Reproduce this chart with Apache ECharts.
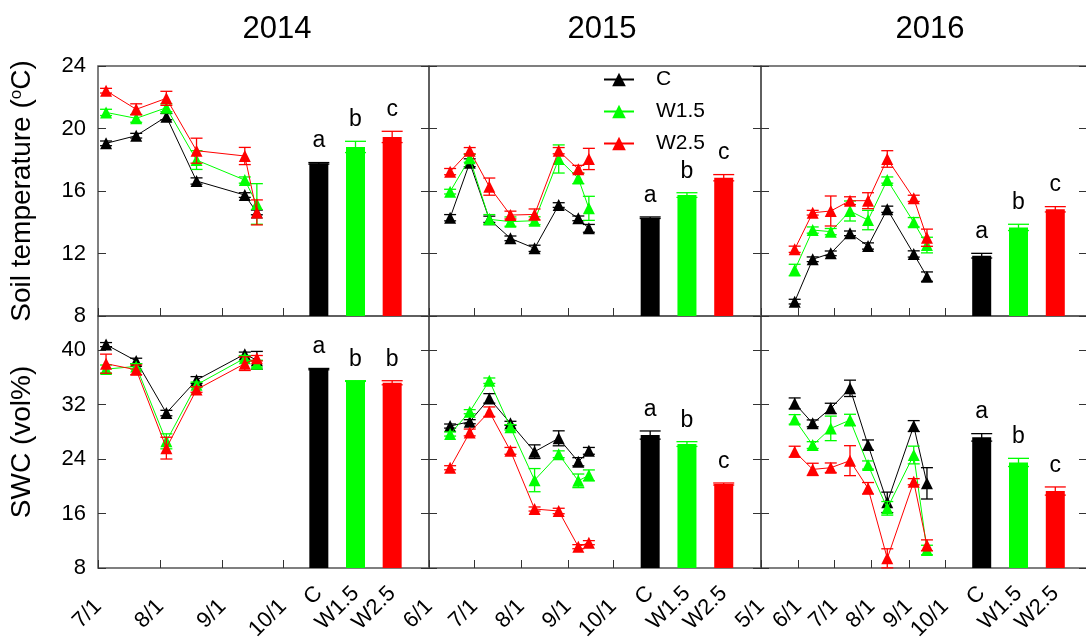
<!DOCTYPE html>
<html>
<head>
<meta charset="utf-8">
<script src="https://cdn.jsdelivr.net/npm/echarts@6/dist/echarts.min.js"></script>
<style>
  html, body { margin: 0; padding: 0; background: #fff; }
  #main { width: 1086px; height: 642px; }
</style>
</head>
<body>
<div id="main"></div>
<script>
// ---------- data ----------
const YEARS = ['2014', '2015', '2016'];
const TREATMENTS = ['C', 'W1.5', 'W2.5'];
const TREATMENT_COLORS = ['#000000', '#00ff00', '#ff0000'];

// sampling dates of each season
const DATES_2014 = ['2014-07-05', '2014-07-20', '2014-08-04', '2014-08-19', '2014-09-12', '2014-09-18'];
const DATES_2015 = ['2015-06-15', '2015-06-28', '2015-07-11', '2015-07-25', '2015-08-10', '2015-08-26', '2015-09-08', '2015-09-15'];
const DATES_2016 = ['2016-05-29', '2016-06-13', '2016-06-28', '2016-07-14', '2016-07-29', '2016-08-14', '2016-09-05', '2016-09-16'];

// month ticks on the date axes
const MONTHS_2014 = ['2014-07-01', '2014-08-01', '2014-09-01', '2014-10-01'];
const MONTHS_2015 = ['2015-06-01', '2015-07-01', '2015-08-01', '2015-09-01', '2015-10-01'];
const MONTHS_2016 = ['2016-05-01', '2016-06-01', '2016-07-01', '2016-08-01', '2016-09-01', '2016-10-01'];

// y-axis tick values
const ST_TICKS = [8, 12, 16, 20, 24];
const SWC_TICKS = [8, 16, 24, 32, 40];

// soil temperature (°C); rows are C, W1.5, W2.5
const ST_2014 = [
  [19.05, 19.54, 20.76, 16.64, 15.74, 14.63],
  [21.03, 20.65, 21.33, 17.98, 16.70, 15.17],
  [22.42, 21.23, 21.93, 18.58, 18.24, 14.63]
];
const ST_SE_2014 = [
  [0.15, 0.15, 0.20, 0.20, 0.15, 0.15],
  [0.20, 0.25, 0.25, 0.60, 0.20, 1.30],
  [0.15, 0.35, 0.45, 0.80, 0.55, 0.80]
];
const ST_2015 = [
  [14.29, 17.81, 14.19, 12.97, 12.33, 15.10, 14.25, 13.61],
  [15.96, 18.09, 14.19, 14.04, 14.10, 18.05, 16.81, 14.89],
  [17.24, 18.58, 16.28, 14.46, 14.50, 18.58, 17.39, 18.05]
];
const ST_SE_2015 = [
  [0.20, 0.25, 0.20, 0.15, 0.20, 0.15, 0.15, 0.25],
  [0.15, 0.25, 0.30, 0.30, 0.25, 0.90, 0.34, 0.77],
  [0.20, 0.20, 0.55, 0.25, 0.35, 0.20, 0.25, 0.68]
];
const ST_2016 = [
  [8.92, 11.63, 12.01, 13.29, 12.48, 14.83, 11.97, 10.52],
  [10.94, 13.50, 13.40, 14.72, 14.14, 16.70, 14.00, 12.54],
  [12.27, 14.61, 14.72, 15.38, 15.38, 18.05, 15.53, 13.01]
];
const ST_SE_2016 = [
  [0.15, 0.15, 0.15, 0.15, 0.20, 0.20, 0.20, 0.30],
  [0.37, 0.20, 0.20, 0.64, 0.62, 0.20, 0.30, 0.50],
  [0.20, 0.15, 0.96, 0.25, 0.51, 0.53, 0.20, 0.55]
];

// soil water content (vol%); rows are C, W1.5, W2.5
const SWC_2014 = [
  [40.8, 38.4, 30.75, 35.6, 39.4, 38.5],
  [37.2, 37.6, 26.6, 34.9, 38.8, 38.0],
  [38.0, 37.1, 25.6, 34.2, 38.0, 38.8]
];
const SWC_SE_2014 = [
  [0.3, 0.4, 0.4, 0.5, 0.3, 1.3],
  [0.6, 0.4, 1.1, 0.4, 0.4, 0.5],
  [1.4, 0.7, 1.6, 0.4, 1.0, 0.4]
];
const SWC_2015 = [
  [28.84, 29.48, 32.9, 29.24, 25.08, 27.04, 23.6, 25.2],
  [27.67, 30.95, 35.5, 28.65, 20.9, 24.7, 20.8, 21.6],
  [22.72, 27.9, 30.95, 25.2, 16.66, 16.37, 11.13, 11.72]
];
const SWC_SE_2015 = [
  [0.3, 0.3, 0.7, 0.3, 1.0, 1.1, 0.6, 0.5],
  [0.3, 0.3, 0.4, 0.4, 1.7, 0.5, 1.0, 0.8],
  [0.3, 0.5, 0.7, 0.5, 0.3, 0.4, 0.3, 0.3]
];
const SWC_2016 = [
  [32.17, 29.24, 31.44, 34.38, 26.05, 17.64, 28.84, 20.43],
  [29.82, 26.05, 28.5, 29.72, 23.12, 16.76, 24.59, 10.64],
  [25.08, 22.48, 22.72, 23.76, 19.7, 9.42, 20.67, 11.33]
];
const SWC_SE_2016 = [
  [0.8, 0.5, 0.75, 1.2, 0.75, 1.5, 0.8, 2.3],
  [0.7, 0.5, 1.8, 0.85, 0.6, 1.0, 1.3, 0.7],
  [0.8, 0.9, 0.7, 2.2, 0.85, 1.4, 0.45, 0.8]
];

// seasonal means per treatment, their SE and significance letters
const ST_MEAN_2014 = [17.77, 18.82, 19.46];
const ST_MEAN_SE_2014 = [0.05, 0.36, 0.36];
const ST_LETTERS_2014 = ['a', 'b', 'c'];
const ST_MEAN_2015 = [14.29, 15.74, 16.85];
const ST_MEAN_SE_2015 = [0.05, 0.15, 0.2];
const ST_LETTERS_2015 = ['a', 'b', 'c'];
const ST_MEAN_2016 = [11.86, 13.67, 14.83];
const ST_MEAN_SE_2016 = [0.15, 0.2, 0.17];
const ST_LETTERS_2016 = ['a', 'b', 'c'];

const SWC_MEAN_2014 = [37.2, 35.45, 35.2];
const SWC_MEAN_SE_2014 = [0.1, 0.05, 0.3];
const SWC_LETTERS_2014 = ['a', 'b', 'b'];
const SWC_MEAN_2015 = [27.52, 26.2, 20.33];
const SWC_MEAN_SE_2015 = [0.6, 0.35, 0.15];
const SWC_LETTERS_2015 = ['a', 'b', 'c'];
const SWC_MEAN_2016 = [27.18, 23.5, 19.3];
const SWC_MEAN_SE_2016 = [0.55, 0.6, 0.6];
const SWC_LETTERS_2016 = ['a', 'b', 'c'];

// ---------- layout ----------
const FONT = '"Liberation Sans", Arial, Helvetica, sans-serif';
const PANEL_X = [[98, 429], [429, 761], [761, 1087]];
const DATE_AXIS_RIGHT = [283, 613, 945];
const BAR_X = [[300.5, 410.5], [631.8, 742.1], [963.3, 1073.7]];
const ROW_Y = [[66, 316], [316, 568]];
const FRAME_COLOR = '#555';
const TICK_COLOR = '#333';

const ts = s => Date.parse(s);
const fmtDate = v => { const d = new Date(v); return (d.getUTCMonth() + 1) + '/' + d.getUTCDate(); };

const grid = [], xAxis = [], yAxis = [], series = [];

function errorBarRenderer(capWidth, colorOf, letters) {
  return function (params, api) {
    const x = api.value(0), m = api.value(1), e = api.value(2);
    const top = api.coord([x, m + e]);
    const bot = api.coord([x, m - e]);
    const color = colorOf(params);
    const half = capWidth / 2;
    const style = { stroke: color, lineWidth: 1.3 };
    const children = [
      { type: 'line', shape: { x1: top[0], y1: top[1], x2: bot[0], y2: bot[1] }, style },
      { type: 'line', shape: { x1: top[0] - half, y1: top[1], x2: top[0] + half, y2: top[1] }, style },
      { type: 'line', shape: { x1: bot[0] - half, y1: bot[1], x2: bot[0] + half, y2: bot[1] }, style }
    ];
    if (letters) {
      children.push({
        type: 'text',
        style: {
          text: letters[params.dataIndex], x: top[0], y: top[1] - 10,
          align: 'center', verticalAlign: 'bottom',
          fontSize: 23, fontFamily: FONT, fill: '#000'
        }
      });
    }
    return { type: 'group', children };
  };
}

function addPanel(col, row, dates, months, means, ses, barMeans, barSes, letters) {
  const [x0, x1] = PANEL_X[col];
  const [y0, y1] = ROW_Y[row];
  const h = y1 - y0;
  const range = row === 0 ? { min: 8, max: 24 } : { min: 8, max: 45 };
  const ticks = row === 0 ? ST_TICKS : SWC_TICKS;
  const common = { containLabel: false, outerBoundsMode: 'none' };

  // frame with the left and right value axes
  const gF = grid.length;
  grid.push(Object.assign({ left: x0, top: y0, width: x1 - x0, height: h, show: true,
    borderColor: FRAME_COLOR, borderWidth: 1.5, backgroundColor: 'transparent' }, common));
  xAxis.push({ gridIndex: gF, type: 'value', show: false });
  const yName = col === 0
    ? (row === 0 ? '{t|Soil temperature (}{s|o}{t|C)}' : '{t|SWC (vol%)}')
    : '';
  yAxis.push({
    gridIndex: gF, type: 'value', position: 'left', min: range.min, max: range.max,
    axisLine: { show: false }, splitLine: { show: false },
    axisTick: { show: true, inside: true, length: 8, customValues: ticks, lineStyle: { color: TICK_COLOR, width: 1 } },
    axisLabel: { show: col === 0, customValues: ticks, margin: 12, fontSize: 22, color: '#000', fontFamily: FONT },
    name: yName, nameLocation: 'middle', nameGap: 62,
    nameTextStyle: {
      fontSize: 28, color: '#000', fontFamily: FONT,
      rich: {
        t: { fontSize: 28, color: '#000', fontFamily: FONT },
        s: { fontSize: 17, color: '#000', fontFamily: FONT, verticalAlign: 'top' }
      }
    }
  });
  yAxis.push({
    gridIndex: gF, type: 'value', position: 'right', min: range.min, max: range.max,
    axisLine: { show: false }, splitLine: { show: false },
    axisTick: { show: true, inside: true, length: 8, customValues: ticks, lineStyle: { color: TICK_COLOR, width: 1 } },
    axisLabel: { show: false }
  });

  // time-course part
  const gL = grid.length;
  grid.push(Object.assign({ left: x0, top: y0, width: DATE_AXIS_RIGHT[col] - x0, height: h }, common));
  const monthTs = months.map(ts);
  const xL = xAxis.length;
  xAxis.push({
    gridIndex: gL, type: 'value', min: monthTs[0], max: monthTs[monthTs.length - 1],
    axisLine: { show: false }, splitLine: { show: false },
    axisTick: { show: true, inside: true, length: 8, customValues: monthTs, lineStyle: { color: TICK_COLOR, width: 1 } },
    axisLabel: { show: row === 1, customValues: monthTs, rotate: 45, margin: 35, formatter: fmtDate,
      fontSize: 22, color: '#000', fontFamily: FONT }
  });
  const yL = yAxis.length;
  yAxis.push({ gridIndex: gL, type: 'value', min: range.min, max: range.max, show: false });

  TREATMENTS.forEach((name, k) => {
    const pts = dates.map((d, i) => [ts(d), means[k][i]]);
    series.push({
      name, type: 'line', xAxisIndex: xL, yAxisIndex: yL, data: pts,
      symbol: 'triangle', symbolSize: 12, z: 3 + k,
      itemStyle: { color: TREATMENT_COLORS[k] },
      lineStyle: { color: TREATMENT_COLORS[k], width: 1 }
    });
    series.push({
      name: name + ' SE', type: 'custom', xAxisIndex: xL, yAxisIndex: yL, z: 3 + k,
      data: dates.map((d, i) => [ts(d), means[k][i], ses[k][i]]),
      renderItem: errorBarRenderer(12, () => TREATMENT_COLORS[k], null)
    });
  });

  // seasonal mean bars
  const [bx0, bx1] = BAR_X[col];
  const gB = grid.length;
  grid.push(Object.assign({ left: bx0, top: y0, width: bx1 - bx0, height: h }, common));
  const xB = xAxis.length;
  xAxis.push({
    gridIndex: gB, type: 'category', data: TREATMENTS,
    axisLine: { show: false }, axisTick: { show: false }, splitLine: { show: false },
    axisLabel: { show: row === 1, interval: 0, rotate: 45, margin: 22, fontSize: 22, color: '#000', fontFamily: FONT }
  });
  const yB = yAxis.length;
  yAxis.push({ gridIndex: gB, type: 'value', min: range.min, max: range.max, show: false });
  series.push({
    name: 'mean', type: 'bar', xAxisIndex: xB, yAxisIndex: yB, barWidth: 19, z: 2,
    data: barMeans.map((v, i) => ({ value: v, itemStyle: { color: TREATMENT_COLORS[i] } }))
  });
  series.push({
    name: 'mean SE', type: 'custom', xAxisIndex: xB, yAxisIndex: yB, z: 3,
    data: barMeans.map((v, i) => [i, v, barSes[i]]),
    renderItem: errorBarRenderer(21, p => TREATMENT_COLORS[p.dataIndex], letters)
  });
}

addPanel(0, 0, DATES_2014, MONTHS_2014, ST_2014, ST_SE_2014, ST_MEAN_2014, ST_MEAN_SE_2014, ST_LETTERS_2014);
addPanel(1, 0, DATES_2015, MONTHS_2015, ST_2015, ST_SE_2015, ST_MEAN_2015, ST_MEAN_SE_2015, ST_LETTERS_2015);
addPanel(2, 0, DATES_2016, MONTHS_2016, ST_2016, ST_SE_2016, ST_MEAN_2016, ST_MEAN_SE_2016, ST_LETTERS_2016);
addPanel(0, 1, DATES_2014, MONTHS_2014, SWC_2014, SWC_SE_2014, SWC_MEAN_2014, SWC_MEAN_SE_2014, SWC_LETTERS_2014);
addPanel(1, 1, DATES_2015, MONTHS_2015, SWC_2015, SWC_SE_2015, SWC_MEAN_2015, SWC_MEAN_SE_2015, SWC_LETTERS_2015);
addPanel(2, 1, DATES_2016, MONTHS_2016, SWC_2016, SWC_SE_2016, SWC_MEAN_2016, SWC_MEAN_SE_2016, SWC_LETTERS_2016);

const TITLE_X = [272, 597, 925];
const title = YEARS.map((y, i) => ({
  text: y, left: TITLE_X[i], top: 9, textAlign: 'center',
  textStyle: { fontSize: 31, fontWeight: 'normal', color: '#000', fontFamily: FONT }
}));

const chart = echarts.init(document.getElementById('main'), null, { renderer: 'canvas' });
chart.setOption({
  animation: false,
  backgroundColor: '#fff',
  title,
  legend: {
    data: TREATMENTS, orient: 'vertical', left: 598, top: 64,
    itemWidth: 30, itemHeight: 17, itemGap: 11,
    textStyle: { fontSize: 21, color: '#000', fontFamily: FONT, padding: [0, 0, 0, 17] }
  },
  grid, xAxis, yAxis, series
});
</script>
</body>
</html>
